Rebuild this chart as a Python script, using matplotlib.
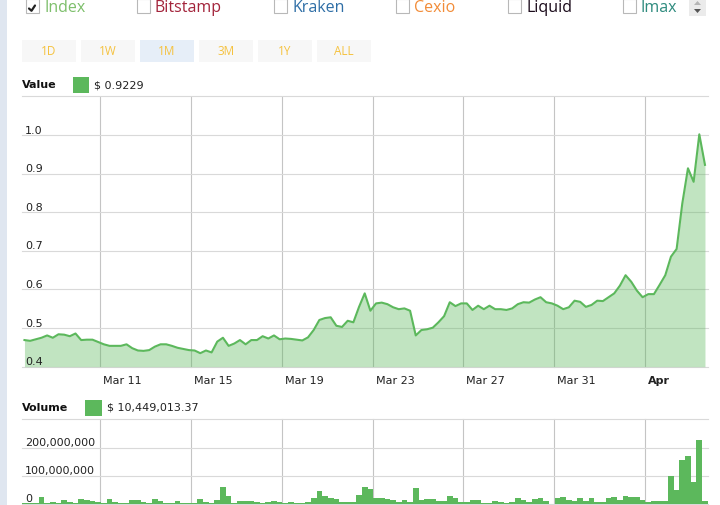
import matplotlib
matplotlib.use("Agg")
import matplotlib.pyplot as plt
import matplotlib.dates as mdates
from matplotlib.patches import Rectangle, Polygon
from matplotlib.transforms import offset_copy
import pandas as pd

# toggles along the top of the widget
series_names = ["Index", "Bitstamp", "Kraken", "Cexio", "Liquid", "Imax"]
series_colors = ["#7dbf6b", "#a3243b", "#2e6ea6", "#f28c38", "#1b0b1b", "#2e8b7e"]
series_checked = [True, False, False, False, False, False]

range_buttons = ["1D", "1W", "1M", "3M", "1Y", "ALL"]
selected_range = "1M"

# 6-hourly samples over one month
start = "2019-03-07 15:36"
value = [
    0.469, 0.467, 0.471, 0.475, 0.481, 0.475, 0.484, 0.483, 0.479, 0.486,
    0.469, 0.470, 0.470, 0.464, 0.458, 0.454, 0.454, 0.454, 0.458, 0.448,
    0.442, 0.441, 0.443, 0.452, 0.458, 0.458, 0.454, 0.449, 0.446, 0.443,
    0.442, 0.435, 0.442, 0.437, 0.465, 0.475, 0.454, 0.460, 0.469, 0.458,
    0.469, 0.469, 0.479, 0.473, 0.481, 0.471, 0.473, 0.472, 0.470, 0.468,
    0.476, 0.495, 0.521, 0.526, 0.528, 0.506, 0.503, 0.519, 0.515, 0.555,
    0.590, 0.545, 0.564, 0.566, 0.562, 0.554, 0.549, 0.551, 0.545, 0.481,
    0.495, 0.497, 0.501, 0.515, 0.531, 0.567, 0.557, 0.564, 0.564, 0.547,
    0.558, 0.549, 0.558, 0.549, 0.549, 0.547, 0.551, 0.562, 0.567, 0.566,
    0.574, 0.580, 0.567, 0.564, 0.558, 0.549, 0.554, 0.571, 0.568, 0.555,
    0.560, 0.571, 0.570, 0.580, 0.590, 0.610, 0.637, 0.620, 0.597, 0.580,
    0.588, 0.588, 0.612, 0.637, 0.685, 0.705, 0.823, 0.914, 0.879, 1.002,
    0.9229,
]
# volume in millions of dollars
volume_m = [
    2.4, 3.6, 3.6, 25.0, 3.6, 8.3, 4.8, 14.3, 8.3, 4.8,
    19.0, 14.3, 11.9, 7.1, 4.8, 17.9, 8.3, 4.8, 4.8, 14.3,
    14.3, 6.0, 3.6, 17.9, 10.7, 4.8, 4.8, 10.7, 4.8, 3.6,
    4.8, 17.9, 8.3, 4.8, 15.5, 60.7, 28.6, 4.8, 11.9, 11.9,
    9.5, 7.1, 3.6, 8.3, 11.9, 7.1, 3.6, 8.3, 3.6, 3.6,
    7.1, 22.6, 46.4, 28.6, 21.4, 17.9, 7.1, 7.1, 7.1, 33.3,
    60.7, 54.8, 21.4, 21.4, 17.9, 15.5, 6.0, 14.3, 7.1, 57.1,
    15.5, 19.0, 19.0, 11.9, 11.9, 28.6, 21.4, 7.1, 7.1, 15.5,
    15.5, 4.8, 4.8, 11.9, 8.3, 4.8, 8.3, 22.6, 15.5, 8.3,
    19.0, 22.6, 11.9, 1.2, 22.6, 26.2, 15.5, 11.9, 22.6, 11.9,
    22.6, 8.3, 8.3, 22.6, 26.2, 15.5, 29.8, 26.2, 26.2, 15.5,
    8.3, 11.9, 11.9, 11.9, 97.6, 51.2, 154.8, 169.0, 76.2, 226.2,
    10.44901337,
]

tick_days = ["2019-03-11", "2019-03-15", "2019-03-19", "2019-03-23",
             "2019-03-27", "2019-03-31", "2019-04-04"]
tick_labels = ["Mar 11", "Mar 15", "Mar 19", "Mar 23", "Mar 27", "Mar 31", "Apr"]
value_grid = [0.4, 0.5, 0.6, 0.7, 0.8, 0.9, 1.0, 1.1]
value_labels = [0.4, 0.5, 0.6, 0.7, 0.8, 0.9, 1.0]
volume_grid = [0, 100e6, 200e6, 300e6]
volume_labels = [0, 100e6, 200e6]

GREEN = "#5cb85c"
TXT = "#222222"
W, H = 720, 505

times = pd.date_range(start, periods=len(value), freq="6h")
volume = [v * 1e6 for v in volume_m]
ticks = mdates.date2num(pd.to_datetime(tick_days))

fig = plt.figure(figsize=(W / 100, H / 100), dpi=100)

# page decoration in pixel coords
bg = fig.add_axes([0, 0, 1, 1])
bg.set_xlim(0, W)
bg.set_ylim(H, 0)
bg.axis("off")
bg.add_patch(Rectangle((0, 0), 7, H, color="#dfe6f0", lw=0))

box_x = [26, 137, 274, 396, 508, 623]
for name, col, chk, bx in zip(series_names, series_colors, series_checked, box_x):
    bg.add_patch(Rectangle((bx, -1), 13, 14, facecolor="white",
                           edgecolor="#b8b8b8", lw=0.8))
    if chk:
        bg.plot([bx + 3, bx + 5.5, bx + 9], [8.5, 10.8, 5.5], color="#222", lw=1.6,
                solid_capstyle="round")
    bg.text(bx + 18, 12.5, name, color=col, fontsize=11.5, family="Open Sans",
            va="baseline", ha="left")

# scroll arrows at the right
bg.add_patch(Rectangle((689, 0), 17, 16, color="#ebebeb", lw=0))
bg.add_patch(Polygon([(694, 5), (701, 5), (697.5, 1)], color="#b5b5b5", lw=0))
bg.add_patch(Polygon([(694, 9), (701, 9), (697.5, 13)], color="#555555", lw=0))

for k, lab in enumerate(range_buttons):
    x0 = 22 + 59 * k
    face = "#e6eef8" if lab == selected_range else "#f7f7f7"
    bg.add_patch(Rectangle((x0, 40), 54, 22, color=face, lw=0))
    bg.text(x0 + 27, 51.5, lab, color="#f5c23f", fontsize=8.5, family="Open Sans",
            ha="center", va="center")

# legends
bg.text(22, 85, "Value", fontsize=8, weight="bold", color="#111", va="center")
bg.add_patch(Rectangle((73, 77), 16, 16, color=GREEN, lw=0))
bg.text(94, 85, f"$ {value[-1]:.4f}", fontsize=8, color=TXT, va="center")

bg.text(22, 408, "Volume", fontsize=8, weight="bold", color="#111", va="center")
bg.add_patch(Rectangle((85, 399.5), 16.5, 16.5, color=GREEN, lw=0))
bg.text(107, 408, f"$ {volume[-1]:,.2f}", fontsize=8, color=TXT, va="center")


def frac(x, y, w, h):
    return [x / W, 1 - (y + h) / H, w / W, h / H]


def style(a, ygrid):
    for s in a.spines.values():
        s.set_visible(False)
    a.set_xticks(ticks)
    a.set_yticks(ygrid)
    a.tick_params(length=0, labelbottom=False, labelleft=False)
    a.grid(axis="y", color="#d9d9d9", lw=0.8)
    a.grid(axis="x", color="#c4c4c4", lw=0.8)
    a.set_axisbelow(True)
    for gl in a.get_ygridlines() + a.get_xgridlines():
        gl.set_clip_on(False)
    a.set_xlim(times[0] - pd.Timedelta(hours=2.6), times[-1] + pd.Timedelta(hours=3.2))


ax = fig.add_axes(frac(22, 96.5, 686, 270.2))
style(ax, value_grid)
ax.set_ylim(0.4, 1.1)
ax.fill_between(times, value, 0.4, color=GREEN, alpha=0.38, lw=0)
ax.plot(times, value, color=GREEN, lw=1.5)

ytr = offset_copy(ax.get_yaxis_transform(), fig=fig, x=3, y=1.5, units="dots")
for v in value_labels:
    ax.text(0, v, f"{v:.1f}", transform=ytr, fontsize=8, color=TXT,
            ha="left", va="baseline")

xtr = offset_copy(ax.get_xaxis_transform(), fig=fig, x=3, y=-14.5, units="dots")
for t, lab in zip(ticks, tick_labels):
    ax.text(t, 0, lab, transform=xtr, fontsize=8, color=TXT, ha="left", va="center",
            weight="bold" if " " not in lab else "normal")

axv = fig.add_axes(frac(22, 419.3, 686, 84.7))
style(axv, volume_grid)
axv.set_ylim(0, 300e6)
axv.bar(times, volume, width=0.25, color=GREEN, lw=0, antialiased=False)

vtr = offset_copy(axv.get_yaxis_transform(), fig=fig, x=3, y=1.5, units="dots")
for v in volume_labels:
    axv.text(0, v, f"{int(v):,}", transform=vtr, fontsize=8, color=TXT,
             ha="left", va="baseline")

fig.savefig("out.png", dpi=100)
